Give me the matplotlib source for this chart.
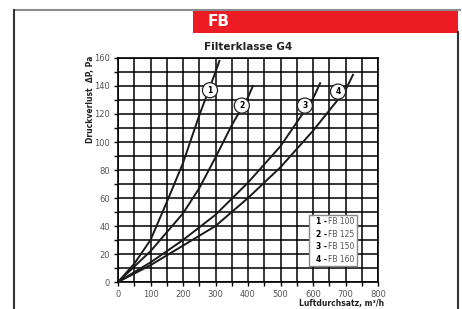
import matplotlib
matplotlib.use('Agg')
import matplotlib.pyplot as plt
from matplotlib.lines import Line2D
from matplotlib.patches import Rectangle

# curve data (Luftdurchsatz m3/h, Druckverlust Pa)
q1 = [0, 50, 100, 150, 200, 250, 300, 312]
p1 = [0, 13, 30, 57, 85, 119, 150, 158]
q2 = [0, 100, 200, 250, 300, 350, 400, 415]
p2 = [0, 22, 49, 67, 89, 112, 132, 140]
q3 = [0, 100, 200, 300, 400, 500, 600, 622]
p3 = [0, 14, 30, 48, 71, 97, 131, 142]
q4 = [0, 100, 200, 300, 400, 500, 600, 700, 723]
p4 = [0, 12, 26, 40, 60, 82, 108, 137, 148]

curve_labels = ['1', '2', '3', '4']
label_pos = [(283, 137), (381, 126), (575, 126), (677, 136)]
legend_names = ['FB 100', 'FB 125', 'FB 150', 'FB 160']

fig = plt.figure(figsize=(4.62, 3.09), dpi=100)
fig.patch.set_facecolor('white')

# page frame and red header
fig.add_artist(Line2D([14/462, 460/462], [1 - 10/309, 1 - 10/309], color='#8c8c8c', lw=1.5))
fig.add_artist(Line2D([14/462, 14/462], [0, 1 - 10/309], color='#333333', lw=1.5))
fig.add_artist(Line2D([458/462, 458/462], [0, 1 - 32/309], color='#333333', lw=1.5))
fig.add_artist(Rectangle((193/462, 1 - 33/309), 265/462, 23/309, transform=fig.transFigure,
                         facecolor='#ED1C24', edgecolor='none'))
fig.text(208/462, 1 - 22/309, 'FB', color='white', fontsize=11, fontweight='bold', va='center', ha='left')
fig.text(248/462, 1 - 47/309, 'Filterklasse G4', fontsize=7.5, fontweight='bold', ha='center', va='center',
         color='#222222')

ax = fig.add_axes([118/462, 27/309, 260/462, 224/309])
ax.set_xlim(0, 800)
ax.set_ylim(0, 160)
ax.set_xticks(range(0, 801, 50))
ax.set_xticklabels([str(v) if v % 100 == 0 else '' for v in range(0, 801, 50)])
ax.set_yticks(range(0, 161, 10))
ax.set_yticklabels([str(v) if v % 20 == 0 else '' for v in range(0, 161, 10)])
ax.grid(True, color='black', lw=1.1)
ax.tick_params(colors='black', labelcolor='#555555', labelsize=6, length=3, width=1, pad=3)
for s in ax.spines.values():
    s.set_linewidth(1.2)

for q, p in [(q1, p1), (q2, p2), (q3, p3), (q4, p4)]:
    ax.plot(q, p, color='#1a1a1a', lw=1.4, zorder=3)

for lab, (x, y) in zip(curve_labels, label_pos):
    ax.text(x, y, lab, fontsize=5.5, fontweight='bold', ha='center', va='center', zorder=5,
            bbox=dict(boxstyle='circle,pad=0.4', facecolor='white', edgecolor='#222222', lw=0.9))

# legend box
ax.add_patch(Rectangle((588, 11.4), 147, 36.6, facecolor='white', edgecolor='#888888', lw=1, zorder=4))
for i, (lab, name) in enumerate(zip(curve_labels, legend_names)):
    yy = 43 - i * 8.9
    ax.text(608, yy, lab + ' -', fontsize=5.5, fontweight='bold', ha='left', va='center', zorder=5)
    ax.text(646, yy, name, fontsize=5.5, color='#555555', ha='left', va='center', zorder=5)

fig.text(90/462, 1 - 56/309, 'Druckverlust  ΔP, Pa', rotation=90, fontsize=5.5, fontweight='bold',
         ha='center', va='top', color='#222222')
fig.text(342/462, 1/309, 'Luftdurchsatz, m³/h', fontsize=5.5, fontweight='bold', ha='center', va='bottom',
         color='#222222')

fig.savefig('out.png', dpi=100)
